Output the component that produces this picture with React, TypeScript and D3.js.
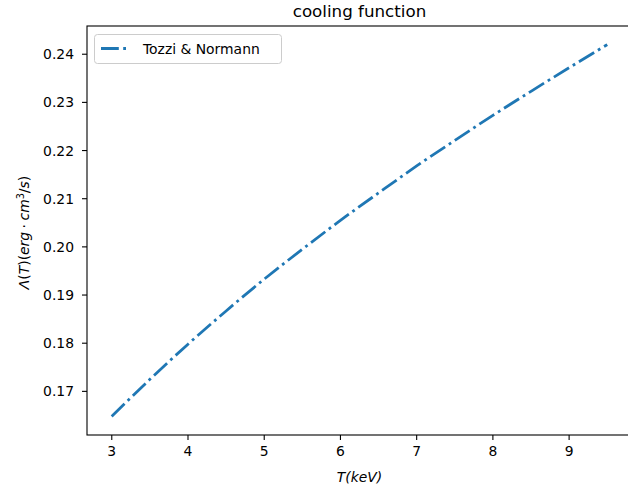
import React from "react";
import * as d3 from "d3";

const temps = [3, 3.5, 4, 4.5, 5, 5.5, 6, 6.5, 7, 7.5, 8, 8.5, 9, 9.5];
const lambdaVals = [0.1648, 0.1725, 0.1798, 0.1867, 0.1933, 0.1995, 0.2055, 0.2112, 0.2168, 0.2221, 0.2273, 0.2323, 0.2372, 0.242];
const xTicks = [3, 4, 5, 6, 7, 8, 9];
const yTicks = [0.17, 0.18, 0.19, 0.2, 0.21, 0.22, 0.23, 0.24];
const seriesName = "Tozzi & Normann";
const title = "cooling function";

const W = 628, H = 488;
const left = 87, right = 632, top = 26, bottom = 435;
const font = "DejaVu Sans, sans-serif";

export default function App() {
  const xMin = d3.min(temps)!, xMax = d3.max(temps)!;
  const yMin = d3.min(lambdaVals)!, yMax = d3.max(lambdaVals)!;
  const xm = (xMax - xMin) * 0.05, ym = (yMax - yMin) * 0.05;
  const x = d3.scaleLinear().domain([xMin - xm, xMax + xm]).range([left, right]);
  const y = d3.scaleLinear().domain([yMin - ym, yMax + ym]).range([bottom, top]);
  const line = d3
    .line<number>()
    .x((_, i) => x(temps[i]))
    .y((d) => y(d))
    .curve(d3.curveMonotoneX);
  const lw = 2.78;
  const dash = "17.8 4.4 2.8 4.4";
  const cx = (left + right) / 2;
  const cy = (top + bottom) / 2;
  return (
    <svg width={W} height={H} style={{ position: "absolute", left: 0, top: 0, background: "#fff" }} fontFamily={font}>
      <rect x={0} y={0} width={W} height={H} fill="#fff" />
      <path d={line(lambdaVals) || ""} fill="none" stroke="#1f77b4" strokeWidth={lw} strokeDasharray={dash} />
      <rect x={left} y={top} width={right - left} height={bottom - top} fill="none" stroke="#000" strokeWidth={1.1} />
      {xTicks.map((t) => (
        <g key={"x" + t}>
          <line x1={x(t)} x2={x(t)} y1={bottom} y2={bottom + 5} stroke="#000" strokeWidth={1.1} />
          <text x={x(t)} y={bottom + 20.5} textAnchor="middle" fontSize={13.9} fill="#000">{t}</text>
        </g>
      ))}
      {yTicks.map((t) => (
        <g key={"y" + t}>
          <line x1={left - 5} x2={left} y1={y(t)} y2={y(t)} stroke="#000" strokeWidth={1.1} />
          <text x={left - 13} y={y(t) + 5} textAnchor="end" fontSize={13.9} fill="#000">{t.toFixed(2)}</text>
        </g>
      ))}
      <text x={cx} y={17} textAnchor="middle" fontSize={16.7} fill="#000">{title}</text>
      <text x={cx} y={481.5} textAnchor="middle" fontSize={13.9} fill="#000" fontStyle="italic">T(keV)</text>
      <text transform={`translate(29,${cy + 2}) rotate(-90)`} textAnchor="middle" fontSize={13.9} fill="#000">
        <tspan fontStyle="italic">Λ</tspan>
        <tspan fontStyle="normal">(</tspan>
        <tspan fontStyle="italic">T</tspan>
        <tspan fontStyle="normal">)(</tspan>
        <tspan fontStyle="italic">erg</tspan>
        <tspan fontStyle="normal">{"\u2005·\u2005"}</tspan>
        <tspan fontStyle="italic">cm</tspan>
        <tspan fontSize={9.7} dy={-5.5}>3</tspan>
        <tspan dy={5.5} fontStyle="normal">/</tspan>
        <tspan fontStyle="italic">s</tspan>
        <tspan fontStyle="normal">)</tspan>
      </text>
      <rect x={94.5} y={34.5} width={187} height={29} rx={3} fill="#fff" fillOpacity={0.8} stroke="#ccc" strokeWidth={1} />
      <line x1={101} x2={129} y1={48.5} y2={48.5} stroke="#1f77b4" strokeWidth={lw} strokeDasharray={dash} />
      <text x={143} y={54} fontSize={13.9} fill="#000">{seriesName}</text>
    </svg>
  );
}
